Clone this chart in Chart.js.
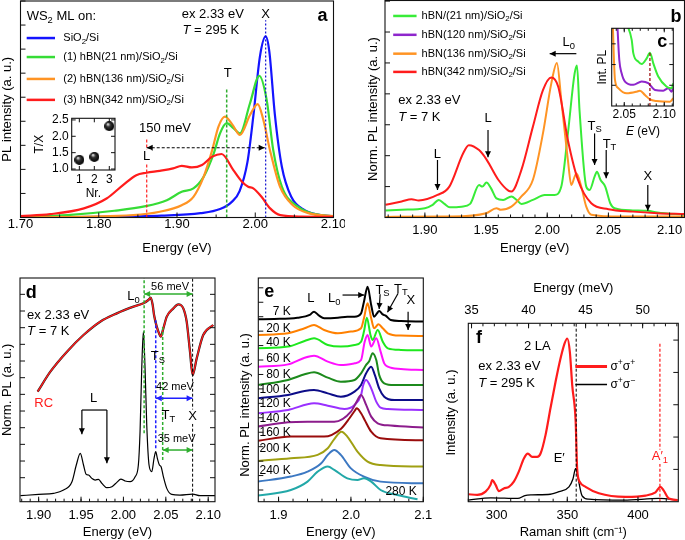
<!DOCTYPE html>
<html><head><meta charset="utf-8">
<script src="https://cdn.jsdelivr.net/npm/chart.js@4.4.1/dist/chart.umd.min.js"></script>
<style>
html,body{margin:0;padding:0;background:#fff;overflow:hidden;}
#wrap{position:relative;width:685px;height:540px;background:#fff;overflow:hidden;}
#wrap canvas{position:absolute;}
</style></head>
<body><div id="wrap"></div>
<script>
// ================= DATA =================
// (a) PL at 295 K : [energy eV, PL intensity a.u.]
const A_SIO2 = [[1.70,0],[1.80,0.03],[1.88,0.08],[1.93,0.18],[1.955,0.35],[1.97,0.65],[1.98,1.1],[1.99,2.3],[1.9975,4.2],[2.006,6.7],[2.0133,7.53],[2.018,6.9],[2.025,4.3],[2.034,2.11],[2.046,0.86],[2.063,0.3],[2.08,0.12],[2.10,0.05]];
const A_HBN21 = [[1.70,0.03],[1.76,0.1],[1.82,0.28],[1.86,0.47],[1.887,0.72],[1.906,1.07],[1.921,1.21],[1.934,1.69],[1.947,2.67],[1.955,3.5],[1.9635,3.92],[1.972,3.72],[1.9805,3.5],[1.9933,4.75],[2.0052,5.89],[2.0146,4.89],[2.023,2.8],[2.034,1.28],[2.055,0.44],[2.075,0.15],[2.10,0.05]];
const A_HBN136 = [[1.70,0],[1.844,0.1],[1.878,0.24],[1.906,0.51],[1.921,0.86],[1.934,1.69],[1.945,2.8],[1.953,3.78],[1.9613,4.19],[1.971,3.85],[1.9805,3.43],[1.9933,4.26],[2.0031,4.71],[2.0103,4.06],[2.0188,2.8],[2.0316,1.28],[2.048,0.51],[2.069,0.17],[2.10,0.06]];
const A_HBN342 = [[1.70,0.06],[1.738,0.14],[1.781,0.38],[1.810,0.79],[1.831,1.35],[1.848,1.76],[1.861,1.86],[1.878,1.94],[1.895,2.04],[1.906,2.15],[1.919,2.08],[1.932,2.18],[1.945,2.53],[1.957,2.64],[1.972,1.97],[1.983,1.49],[1.991,1.28],[1.9975,1.21],[2.008,0.86],[2.019,0.38],[2.032,0.1],[2.06,0.04],[2.10,0.03]];
const A_LEGEND = ['SiO_{2}/Si','(1) hBN(21 nm)/SiO_{2}/Si','(2) hBN(136 nm)/SiO_{2}/Si','(3) hBN(342 nm)/SiO_{2}/Si'];
const A_X_TICKS = [1.70,1.80,1.90,2.00,2.10];
const A_Y_TICKS = [0,1,2,3,4,5,6,7,8,9];
// (a) inset : T/X ratio vs sample number
const INSET_NR = [1,2,3];
const INSET_TX = [1.28,1.37,2.31];
const INSET_Y_TICKS = [1.0,1.5,2.0,2.5];

// (b) PL at 7 K
const B_HBN21 = [[1.8679,0.23],[1.881,0.25],[1.90,0.3],[1.906,0.4],[1.9114,0.57],[1.916,0.44],[1.9204,0.33],[1.93,0.35],[1.937,0.44],[1.9443,1.05],[1.947,1.0],[1.9503,1.13],[1.954,0.95],[1.9585,0.62],[1.964,0.57],[1.9707,0.68],[1.975,0.57],[1.9789,0.44],[1.9883,0.57],[1.9979,0.73],[2.006,0.73],[2.0115,1.0],[2.0169,2.72],[2.0224,4.66],[2.0243,4.92],[2.0264,3.47],[2.0319,1.0],[2.0346,0.89],[2.0387,1.32],[2.0406,1.48],[2.0435,1.22],[2.0474,1.0],[2.0515,0.46],[2.055,0.3],[2.07,0.23],[2.0822,0.215],[2.09,0.16],[2.1122,0.09]];
const B_HBN136 = [[1.8679,0.02],[1.92,0.03],[1.95,0.14],[1.9585,0.3],[1.962,0.25],[1.9707,0.35],[1.9789,0.68],[1.9883,1.22],[1.9965,2.72],[2.0033,4.33],[2.0079,5.0],[2.0115,3.8],[2.0169,1.86],[2.0197,1.05],[2.0224,1.32],[2.0238,1.43],[2.0278,1.0],[2.0319,0.35],[2.036,0.09],[2.06,0.03],[2.1122,0.03]];
const B_HBN342 = [[1.8679,0.41],[1.881,0.52],[1.8891,0.59],[1.895,0.55],[1.9103,0.73],[1.92,1.0],[1.9313,2.08],[1.9359,2.34],[1.9443,2.18],[1.9503,1.88],[1.96,1.22],[1.9685,0.86],[1.9707,0.84],[1.9789,1.54],[1.9883,2.94],[1.9965,4.12],[2.0033,4.53],[2.009,4.23],[2.0169,2.5],[2.0251,1.22],[2.036,0.46],[2.05,0.27],[2.07,0.19],[2.09,0.14],[2.1122,0.11]];
const B_LEGEND = ['hBN/(21 nm)/SiO_{2}/Si','hBN(120 nm)/SiO_{2}/Si','hBN(136 nm)/SiO_{2}/Si','hBN(342 nm)/SiO_{2}/Si'];
const B_X_TICKS = [1.90,1.95,2.00,2.05,2.10];
const B_Y_TICKS = [0,1,2,3,4,5,6,7];

// (c) integrated PL near X
const C_HBN21 = [[2.050,4.2],[2.0593,3.19],[2.0613,2.55],[2.0675,2.14],[2.0718,2.03],[2.078,2.3],[2.0821,2.57],[2.0863,2.06],[2.0925,1.42],[2.103,0.93],[2.1093,0.86],[2.1113,1.1]];
const C_HBN120 = [[2.041,4.2],[2.0438,2.22],[2.0467,1.58],[2.0509,1.18],[2.0613,1.02],[2.0718,1.18],[2.08,1.1],[2.0884,0.77],[2.0988,0.74],[2.105,0.86],[2.1093,0.69],[2.1113,0.94]];
const C_HBN136 = [[2.0355,4.2],[2.0371,2.22],[2.0384,1.26],[2.0425,0.86],[2.053,0.61],[2.0655,0.69],[2.0696,0.74],[2.0759,0.53],[2.0821,0.32],[2.0905,0.24],[2.1071,0.21],[2.1113,0.37]];
const C_X_TICKS = [2.05,2.10];

// (d) PL and reflectance contrast at 7 K
const D_PL = [[1.8785,0.36],[1.90,0.44],[1.9176,0.5],[1.9294,0.7],[1.9393,1.2],[1.9444,2.2],[1.9491,2.9],[1.9529,2.2],[1.9561,1.64],[1.9588,1.6],[1.9628,1.4],[1.9667,1.3],[1.9706,1.34],[1.9746,1.1],[1.9805,0.84],[1.9864,0.9],[1.9922,1.16],[1.9969,1.36],[2.002,1.24],[2.0079,1.2],[2.0138,1.5],[2.0176,2.2],[2.0196,4.2],[2.0216,8.0],[2.0235,10.2],[2.0255,8.0],[2.0275,4.6],[2.0302,2.2],[2.0334,1.8],[2.0361,2.6],[2.0381,3.0],[2.04,2.6],[2.0424,2.2],[2.0444,2.1],[2.0471,1.5],[2.0511,0.8],[2.0569,0.44],[2.0667,0.4],[2.0816,0.46],[2.0902,0.36],[2.1079,0.36]];
const D_RC = [[1.8988,6.6],[1.9138,7.8],[1.9334,9.0],[1.9529,10.0],[1.9726,10.8],[1.9922,11.3],[2.0118,11.7],[2.0235,11.9],[2.0294,12.1],[2.0322,12.24],[2.0345,11.8],[2.0361,11.2],[2.0393,10.5],[2.042,10.1],[2.044,9.9],[2.0471,10.4],[2.0511,11.1],[2.0589,11.6],[2.0647,11.84],[2.0706,11.6],[2.0746,10.8],[2.0785,9.0],[2.0816,7.6],[2.0864,8.6],[2.0941,10.0],[2.1059,10.6]];
const D_X_TICKS = [1.90,1.95,2.00,2.05,2.10];

// (e) temperature series (offset, normalized)
const E_TEMPS = ['7 K','20 K','40 K','60 K','80 K','100 K','120 K','140 K','160 K','200 K','240 K','280 K'];
const E_7K = [[1.871,11.82],[1.894,11.84],[1.926,11.93],[1.943,12.12],[1.949,12.35],[1.956,12.07],[1.963,11.89],[1.982,11.93],[1.995,12.0],[2.005,12.0],[2.014,12.23],[2.018,13.04],[2.023,14.08],[2.028,12.81],[2.032,12.0],[2.036,12.23],[2.039,12.4],[2.044,12.16],[2.048,12.07],[2.055,11.77],[2.069,11.7],[2.1,11.66]];
const E_20K = [[1.871,10.74],[1.913,10.85],[1.936,11.2],[1.949,11.43],[1.963,11.08],[1.982,10.85],[2.0,10.97],[2.014,11.2],[2.018,11.89],[2.023,12.93],[2.028,11.89],[2.032,11.2],[2.038,11.47],[2.044,11.2],[2.051,10.85],[2.069,10.69],[2.1,10.67]];
const E_40K = [[1.871,9.81],[1.913,9.93],[1.936,10.32],[1.949,10.5],[1.968,10.04],[1.986,9.93],[2.005,10.04],[2.014,10.27],[2.018,10.97],[2.022,11.93],[2.027,10.74],[2.03,10.39],[2.037,11.08],[2.044,10.27],[2.051,9.81],[2.069,9.7],[2.1,9.68]];
const E_60K = [[1.871,8.54],[1.913,8.7],[1.936,9.16],[1.949,9.3],[1.968,8.89],[1.986,8.66],[2.005,8.77],[2.014,9.0],[2.019,10.27],[2.023,10.74],[2.028,9.93],[2.035,10.5],[2.041,9.58],[2.046,8.77],[2.051,8.54],[2.069,8.38],[2.1,8.31]];
const E_80K = [[1.871,7.27],[1.913,7.62],[1.936,8.01],[1.949,8.15],[1.968,7.78],[1.986,7.5],[2.005,7.62],[2.014,8.08],[2.021,8.66],[2.025,8.89],[2.03,9.47],[2.035,9.0],[2.039,7.97],[2.046,7.39],[2.06,7.27],[2.1,7.27]];
const E_100K = [[1.871,6.35],[1.913,6.58],[1.936,6.86],[1.949,6.92],[1.968,6.69],[1.986,6.46],[2.005,6.81],[2.014,7.27],[2.021,8.08],[2.028,8.54],[2.033,7.97],[2.039,7.04],[2.046,6.46],[2.06,6.23],[2.1,6.23]];
const E_120K = [[1.871,5.31],[1.913,5.54],[1.949,6.0],[1.968,5.84],[1.991,5.61],[2.005,5.89],[2.014,6.58],[2.017,7.27],[2.021,7.62],[2.028,7.04],[2.035,6.12],[2.041,5.7],[2.051,5.61],[2.1,5.54]];
const E_140K = [[1.871,4.39],[1.913,4.69],[1.94,4.73],[1.977,4.73],[2.0,5.43],[2.008,6.12],[2.014,6.58],[2.021,5.89],[2.028,5.08],[2.037,4.62],[2.055,4.46],[2.1,4.32]];
const E_160K = [[1.871,3.4],[1.917,3.7],[1.963,3.7],[1.986,4.23],[1.998,4.97],[2.005,5.47],[2.008,5.66],[2.014,5.31],[2.019,4.85],[2.028,4.04],[2.041,3.58],[2.1,3.44]];
const E_200K = [[1.871,2.01],[1.917,2.2],[1.954,2.43],[1.968,2.89],[1.977,3.53],[1.987,4.04],[1.995,3.7],[2.009,2.66],[2.023,1.97],[2.041,1.73],[2.1,1.62]];
const E_240K = [[1.871,0.58],[1.917,0.93],[1.94,1.27],[1.959,1.85],[1.968,2.43],[1.977,2.77],[1.986,2.43],[2.0,1.5],[2.018,0.93],[2.041,0.58],[2.1,0.46]];
const E_280K = [[1.871,-0.39],[1.917,0.0],[1.94,0.58],[1.954,1.27],[1.968,1.62],[1.977,1.39],[1.995,0.81],[2.009,0.69],[2.018,0.81],[2.028,0.58],[2.041,0.0],[2.064,-0.35],[2.092,-0.64]];
const E_SERIES = [E_7K,E_20K,E_40K,E_60K,E_80K,E_100K,E_120K,E_140K,E_160K,E_200K,E_240K,E_280K];
const E_X_TICKS = [1.9,2.0,2.1];

// (f) Raman : [Raman shift cm^-1, intensity]
const F_PP = [[280,0.23],[286.3,0.21],[292.2,0.31],[295.7,0.52],[296.9,0.67],[299.3,0.52],[301.6,0.33],[305.1,0.41],[308.7,0.46],[312.2,0.62],[315.7,0.93],[319.3,1.34],[322.1,1.49],[325.2,1.39],[328.7,1.39],[331.1,1.49],[334.6,2.06],[338.1,2.89],[341.7,3.71],[345.2,4.43],[348.1,4.9],[350,5.05],[351.8,4.64],[353.5,3.6],[355.9,2.5],[357,1.0],[359,0.6],[362.9,0.46],[372.3,0.26],[391.2,0.15],[405.3,0.19],[412.4,0.29],[415.9,0.46],[418,0.36],[421.8,0.1],[428,0.05]];
const F_PM = [[280,0.05],[296,0.12],[315,0.1],[320,0.19],[325,0.21],[338,0.23],[344.2,0.31],[351.2,0.46],[354,0.7],[355.9,1.03],[357.5,0.75],[360.5,0.18],[365,0.08],[390,0.05],[415,0.1],[428,0.05]];
const F_X_TICKS = [300,350,400];
const F_MEV_TICKS = [35,40,45,50];
const CM_PER_MEV = 8.0655;

// ================= STYLE =================
const FAM = '"Liberation Sans", Arial, Helvetica, sans-serif';
const F = (s, w) => ({ family: FAM, size: s, weight: w || 'normal', lineHeight: 1.2 });
const pts = arr => arr.map(p => ({ x: p[0], y: p[1] }));
const COL = { blue:'#1414ff', green:'#36dc36', orange:'#ff9424', red:'#ff1c1c', green2:'#38ec38', purple:'#8e26cc', dgreen:'#2fae2f' };
const E_COLORS = ['#000000','#ff8000','#1ee81e','#ff10ff','#1c8a1c','#0c0c88','#9a30ff','#8c1c8c','#9a0c0c','#a0a012','#3c78c2','#22a8a8'];

function parseRich(s) {
  const out = []; let buf = ''; let i = 0;
  while (i < s.length) {
    const c = s[i];
    if ((c === '_' || c === '^' || c === '~') && s[i + 1] === '{') {
      if (buf) { out.push({ t: buf }); buf = ''; }
      const j = s.indexOf('}', i + 2);
      out.push({ t: s.slice(i + 2, j), sub: c === '_', sup: c === '^', it: c === '~' });
      i = j + 1;
    } else { buf += c; i++; }
  }
  if (buf) out.push({ t: buf });
  return out;
}
function drawRich(ctx, s, x, y, o) {
  const size = o.fs || 13;
  const segs = parseRich(s);
  const fnt = g => (g.it ? 'italic ' : '') + (o.b ? 'bold ' : '') + ((g.sub || g.sup) ? (size * 0.72).toFixed(1) : size) + 'px ' + FAM;
  let w = 0;
  segs.forEach(g => { ctx.font = fnt(g); g.w = ctx.measureText(g.t).width; w += g.w; });
  ctx.save();
  ctx.translate(x, y);
  if (o.rot) ctx.rotate(o.rot * Math.PI / 180);
  let x0 = o.al === 'l' ? 0 : (o.al === 'r' ? -w : -w / 2);
  if (o.bg) { ctx.fillStyle = o.bg; ctx.fillRect(x0 - 1, -size * 0.55, w + 2, size * 1.1); }
  ctx.textBaseline = 'middle'; ctx.textAlign = 'left'; ctx.fillStyle = o.c || '#000';
  segs.forEach(g => { ctx.font = fnt(g); const dy = g.sub ? size * 0.3 : (g.sup ? -size * 0.33 : 0); ctx.fillText(g.t, x0, dy); x0 += g.w; });
  ctx.restore();
}
function head(ctx, x1, y1, x2, y2) {
  const L = 6, W = 3, ang = Math.atan2(y2 - y1, x2 - x1);
  const bx = x2 - L * Math.cos(ang), by = y2 - L * Math.sin(ang);
  ctx.beginPath(); ctx.moveTo(x2, y2);
  ctx.lineTo(bx + W * Math.sin(ang), by - W * Math.cos(ang));
  ctx.lineTo(bx - W * Math.sin(ang), by + W * Math.cos(ang));
  ctx.closePath(); ctx.fill();
}

const ANNO = {};
const Anno = {
  id: 'anno',
  beforeDatasetsDraw(chart) {
    const A = ANNO[chart.canvas.id]; if (!A || !A.bg) return;
    const a = chart.chartArea, ctx = chart.ctx;
    ctx.save(); ctx.fillStyle = A.bg; ctx.fillRect(a.left, a.top, a.right - a.left, a.bottom - a.top); ctx.restore();
  },
  afterDatasetsDraw(chart) {
    const A = ANNO[chart.canvas.id]; if (!A) return;
    const ctx = chart.ctx, a = chart.chartArea;
    ctx.save();
    (A.items || []).forEach(it => {
      const xs = chart.scales[it.xs || 'x'], ys = chart.scales.y;
      if (it.k === 'l') {
        const x1 = xs.getPixelForValue(it.x1), y1 = ys.getPixelForValue(it.y1);
        const x2 = xs.getPixelForValue(it.x2), y2 = ys.getPixelForValue(it.y2);
        ctx.strokeStyle = it.c || '#000'; ctx.fillStyle = it.c || '#000';
        ctx.lineWidth = it.w || 1; ctx.setLineDash(it.d || []);
        ctx.beginPath(); ctx.moveTo(x1, y1); ctx.lineTo(x2, y2); ctx.stroke();
        ctx.setLineDash([]);
        if (it.ah & 1) head(ctx, x1, y1, x2, y2);
        if (it.ah & 2) head(ctx, x2, y2, x1, y1);
      } else {
        drawRich(ctx, it.s, xs.getPixelForValue(it.x), ys.getPixelForValue(it.y), it);
      }
    });
    ctx.setLineDash([]);
    ctx.strokeStyle = '#111'; ctx.lineWidth = 1.1;
    ctx.strokeRect(a.left, a.top, a.right - a.left, a.bottom - a.top);
    ctx.lineWidth = 1;
    (A.ticks || []).forEach(t => {
      const sc = chart.scales[t.s];
      let vals = t.v;
      if (!vals) {
        vals = [];
        for (let i = 0; i < 2000; i++) { const v = t.from + i * t.step; if (v > sc.max + 1e-9) break; if (v >= sc.min - 1e-9) vals.push(v); }
      }
      ctx.beginPath();
      vals.forEach(v => {
        const p = sc.getPixelForValue(v), L = t.len;
        if (t.sides.includes('b')) { ctx.moveTo(p, a.bottom); ctx.lineTo(p, a.bottom - L); }
        if (t.sides.includes('t')) { ctx.moveTo(p, a.top); ctx.lineTo(p, a.top + L); }
        if (t.sides.includes('l')) { ctx.moveTo(a.left, p); ctx.lineTo(a.left + L, p); }
        if (t.sides.includes('r')) { ctx.moveTo(a.right, p); ctx.lineTo(a.right - L, p); }
      });
      ctx.stroke();
    });
    ctx.restore();
  }
};

function line(arr, color, w) {
  return { data: pts(arr), borderColor: color, backgroundColor: color, borderWidth: w, pointRadius: 0, pointHoverRadius: 0,
           fill: false, tension: 0.4, cubicInterpolationMode: 'monotone', clip: 0 };
}
function xAxis(box, area, o) {
  const top = o.pos === 'top';
  return {
    type: 'linear', position: top ? 'top' : 'bottom', min: o.min, max: o.max,
    grid: { display: false, drawTicks: false }, border: { display: false },
    afterBuildTicks: s => { s.ticks = o.ticks.map(v => ({ value: v })); },
    ticks: { autoSkip: false, maxRotation: 0, minRotation: 0, color: '#000', font: F(o.fs || 13), padding: o.pad, callback: v => Number(v).toFixed(o.dec) },
    title: { display: !!o.title, text: o.title || '', color: '#000', font: F(o.tfs || 13), padding: { top: o.tpt || 0, bottom: o.tpb || 0 } },
    afterFit: s => { s.height = top ? area.t - box.y : box.y + box.h - area.b; s.paddingLeft = 0; s.paddingRight = 0; }
  };
}
function yAxis(box, area, o) {
  return {
    type: 'linear', position: 'left', min: o.min, max: o.max,
    grid: { display: false, drawTicks: false }, border: { display: false },
    afterBuildTicks: s => { s.ticks = (o.ticks || [o.min]).map(v => ({ value: v })); },
    ticks: { display: !!o.labels, autoSkip: false, color: '#000', font: F(o.fs || 12), padding: o.pad || 3, callback: v => Number(v).toFixed(o.dec || 0) },
    title: { display: !!o.title, text: o.title || '', color: '#000', font: F(o.tfs || 13), padding: { top: o.tpt || 0, bottom: 0 } },
    afterFit: s => { s.width = area.l - box.x; s.paddingTop = 0; s.paddingBottom = 0; }
  };
}
function makePanel(id, box, area, cfg, hasTop) {
  const c = document.createElement('canvas');
  c.id = id; c.width = box.w; c.height = box.h;
  c.style.left = box.x + 'px'; c.style.top = box.y + 'px';
  c.style.width = box.w + 'px'; c.style.height = box.h + 'px';
  document.getElementById('wrap').appendChild(c);
  const o = cfg.options || {};
  o.responsive = false; o.maintainAspectRatio = false; o.animation = false; o.devicePixelRatio = 1; o.events = [];
  o.layout = { padding: { left: 0, bottom: 0, top: hasTop ? 0 : area.t - box.y, right: box.x + box.w - area.r } };
  o.plugins = { legend: { display: false }, tooltip: { enabled: false }, title: { display: false } };
  cfg.options = o; cfg.plugins = [Anno];
  return new Chart(c, cfg);
}
function sphere(r) {
  const c = document.createElement('canvas'); c.width = c.height = 2 * r;
  const g = c.getContext('2d');
  const gr = g.createRadialGradient(r * 0.7, r * 0.6, r * 0.1, r, r, r);
  gr.addColorStop(0, '#e0e0e0'); gr.addColorStop(0.35, '#333'); gr.addColorStop(1, '#000');
  g.fillStyle = gr; g.beginPath(); g.arc(r, r, r, 0, Math.PI * 2); g.fill();
  return c;
}

// ================= PANEL a =================
const boxA = { x: 0, y: 0, w: 345, h: 262 }, arA = { l: 20.5, t: 1, r: 333.5, b: 217.5 };
const aCols = [COL.blue, COL.green, COL.orange, COL.red];
const aLegY = [7.46, 6.67, 5.76, 4.89];
ANNO.pa = {
  ticks: [{ s: 'y', sides: 'l', v: A_Y_TICKS, len: 5 }, { s: 'x', sides: 'b', v: A_X_TICKS, len: 5 }, { s: 'x', sides: 'b', from: 1.75, step: 0.1, len: 3 }],
  items: [
    { k: 't', x: 1.7079, y: 8.36, s: 'WS_{2} ML on:', al: 'l', fs: 13 },
    ...aCols.map((c, i) => ({ k: 'l', x1: 1.7079, y1: aLegY[i], x2: 1.7441, y2: aLegY[i], c: c, w: 2.5 })),
    ...A_LEGEND.map((s, i) => ({ k: 't', x: 1.7547, y: aLegY[i], s: s, al: 'l', fs: 11 })),
    { k: 't', x: 1.906, y: 8.43, s: 'ex 2.33 eV', al: 'l', fs: 13 },
    { k: 't', x: 1.907, y: 7.78, s: '~{T} = 295 K', al: 'l', fs: 13 },
    { k: 't', x: 2.0133, y: 8.45, s: 'X', fs: 13 },
    { k: 't', x: 2.086, y: 8.39, s: 'a', fs: 18, b: true },
    { k: 'l', x1: 1.8613, y1: 0, x2: 1.8613, y2: 3.29, c: '#ff2020', w: 1.2, d: [3, 2] },
    { k: 'l', x1: 1.9635, y1: 0, x2: 1.9635, y2: 5.4, c: COL.dgreen, w: 1.5, d: [3, 2] },
    { k: 'l', x1: 2.0133, y1: 0, x2: 2.0133, y2: 8.2, c: '#1010d0', w: 1.2, d: [2, 2] },
    { k: 'l', x1: 1.8613, y1: 2.9, x2: 2.0121, y2: 2.9, c: '#000', w: 1.2, d: [3, 2], ah: 3 },
    { k: 't', x: 1.9647, y: 5.97, s: 'T', fs: 13 },
    { k: 't', x: 1.8847, y: 3.71, s: '150 meV', fs: 13 },
    { k: 't', x: 1.8613, y: 2.53, s: 'L', fs: 13, bg: '#fff' }
  ]
};
makePanel('pa', boxA, arA, {
  type: 'line',
  data: { datasets: [line(A_HBN342, COL.red, 2.2), line(A_HBN136, COL.orange, 2.2), line(A_HBN21, COL.green, 2.2), line(A_SIO2, COL.blue, 2.2)] },
  options: { scales: {
    x: xAxis(boxA, arA, { min: 1.70, max: 2.10, ticks: A_X_TICKS, dec: 2, pad: -1, title: 'Energy (eV)', tpb: 6 }),
    y: yAxis(boxA, arA, { min: 0, max: 9, ticks: A_Y_TICKS, title: 'PL intensity (a. u.)', tpt: 0 })
  } }
});

// inset of a
const boxIA = { x: 30, y: 110, w: 92, h: 92 }, arIA = { l: 71.7, t: 118.3, r: 115, b: 170 };
ANNO.pia = {
  bg: '#fff',
  ticks: [{ s: 'x', sides: 'bt', v: INSET_NR, len: 4 }, { s: 'y', sides: 'lr', v: INSET_Y_TICKS, len: 4 }]
};
makePanel('pia', boxIA, arIA, {
  type: 'scatter',
  data: { datasets: [{ data: INSET_NR.map((n, i) => ({ x: n, y: INSET_TX[i] })), pointStyle: sphere(5), pointRadius: 5, clip: false }] },
  options: { scales: {
    x: xAxis(boxIA, arIA, { min: 0.49, max: 3.38, ticks: INSET_NR, dec: 0, fs: 12, pad: 2.8, title: 'Nr.', tfs: 12, tpb: 1.5 }),
    y: yAxis(boxIA, arIA, { min: 0.97, max: 2.55, ticks: INSET_Y_TICKS, labels: true, dec: 1, fs: 12, pad: 3, title: 'T/X', tfs: 12, tpt: 2.8 })
  } }
});

// ================= PANEL b =================
const boxB = { x: 345, y: 0, w: 340, h: 262 }, arB = { l: 385, t: 0.5, r: 684.5, b: 217.5 };
const bCols = [COL.green2, COL.purple, COL.orange, COL.red];
const bLegY = [6.52, 5.91, 5.3, 4.71];
ANNO.pb = {
  ticks: [{ s: 'y', sides: 'l', v: B_Y_TICKS, len: 5 }, { s: 'x', sides: 'b', v: B_X_TICKS, len: 5 }, { s: 'x', sides: 'b', from: 1.87, step: 0.01, len: 3 }],
  items: [
    ...bCols.map((c, i) => ({ k: 'l', x1: 1.8741, y1: bLegY[i], x2: 1.8932, y2: bLegY[i], c: c, w: 2.5 })),
    ...B_LEGEND.map((s, i) => ({ k: 't', x: 1.8973, y: bLegY[i], s: s, al: 'l', fs: 11 })),
    { k: 't', x: 1.8782, y: 3.8, s: 'ex 2.33 eV', al: 'l', fs: 13 },
    { k: 't', x: 1.8782, y: 3.24, s: '~{T} = 7 K', al: 'l', fs: 13 },
    { k: 't', x: 2.1053, y: 6.48, s: 'b', fs: 18, b: true },
    { k: 't', x: 1.9103, y: 2.05, s: 'L' },
    { k: 'l', x1: 1.9103, y1: 1.86, x2: 1.9103, y2: 0.89, w: 1.2, ah: 1 },
    { k: 't', x: 1.9516, y: 3.2, s: 'L' },
    { k: 'l', x1: 1.9516, y1: 2.83, x2: 1.9516, y2: 1.95, w: 1.2, ah: 1 },
    { k: 't', x: 2.0175, y: 5.65, s: 'L_{0}' },
    { k: 'l', x1: 2.0238, y1: 5.3, x2: 2.002, y2: 5.3, w: 1.2, ah: 1 },
    { k: 't', x: 2.0387, y: 2.96, s: 'T_{S}' },
    { k: 'l', x1: 2.0387, y1: 2.72, x2: 2.0387, y2: 1.7, w: 1.2, ah: 1 },
    { k: 't', x: 2.0509, y: 2.38, s: 'T_{T}' },
    { k: 'l', x1: 2.0482, y1: 2.18, x2: 2.0482, y2: 1.27, w: 1.2, ah: 1 },
    { k: 't', x: 2.0822, y: 1.32, s: 'X' },
    { k: 'l', x1: 2.0822, y1: 1.05, x2: 2.0822, y2: 0.22, w: 1.2, ah: 1 }
  ]
};
makePanel('pb', boxB, arB, {
  type: 'line',
  data: { datasets: [line(B_HBN342, COL.red, 2), line(B_HBN136, COL.orange, 2), line(B_HBN21, COL.green2, 2)] },
  options: { scales: {
    x: xAxis(boxB, arB, { min: 1.8674, max: 2.1122, ticks: B_X_TICKS, dec: 2, pad: 4.7, title: 'Energy (eV)', tpb: 6 }),
    y: yAxis(boxB, arB, { min: 0, max: 7.02, ticks: B_Y_TICKS, title: 'Norm. PL intensity (a. u.)', tpt: 20.5 })
  } }
});

// ================= PANEL c (inset of b) =================
const boxC = { x: 595, y: 18, w: 90, h: 122 }, arC = { l: 611.7, t: 28.3, r: 673.3, b: 106 };
ANNO.pc = {
  bg: '#fff',
  ticks: [{ s: 'y', sides: 'lr', v: [1, 2, 3], len: 4 }, { s: 'x', sides: 'bt', v: C_X_TICKS, len: 4 }, { s: 'x', sides: 'bt', from: 2.04, step: 0.01, len: 2.5 }],
  items: [
    { k: 'l', x1: 2.0821, y1: 0, x2: 2.0821, y2: 2.57, c: '#990000', w: 1.2, d: [3, 2] },
    { k: 't', x: 2.0975, y: 3.09, s: 'c', fs: 18, b: true },
    { k: 't', x: 2.0734, y: -1.26, s: '~{E} (eV)', fs: 12 }
  ]
};
makePanel('pc', boxC, arC, {
  type: 'line',
  data: { datasets: [line(C_HBN21, COL.green2, 2), line(C_HBN120, COL.purple, 2), line(C_HBN136, COL.orange, 2)] },
  options: { scales: {
    x: xAxis(boxC, arC, { min: 2.0343, max: 2.1113, ticks: C_X_TICKS, dec: 2, fs: 12, pad: 1.8 }),
    y: yAxis(boxC, arC, { min: 0, max: 3.75, ticks: [1, 2, 3], title: 'Int. PL', tfs: 12, tpt: 0 })
  } }
});

// ================= PANEL d =================
const boxD = { x: 0, y: 270, w: 225, h: 270 }, arD = { l: 20, t: 278, r: 215, b: 501.7 };
ANNO.pd = {
  ticks: [{ s: 'y', sides: 'lr', from: 1.44, step: 1, len: 5 }, { s: 'x', sides: 'b', v: D_X_TICKS, len: 5 }, { s: 'x', sides: 'b', from: 1.88, step: 0.01, len: 3 }],
  items: [
    { k: 't', x: 1.8914, y: 12.52, s: 'd', fs: 18, b: true },
    { k: 't', x: 1.8864, y: 11.16, s: 'ex 2.33 eV', al: 'l' },
    { k: 't', x: 1.8864, y: 10.24, s: '~{T} = 7 K', al: 'l' },
    { k: 'l', x1: 2.0244, y1: 4.1, x2: 2.0244, y2: 13.42, c: COL.dgreen, w: 1.5, d: [3, 2] },
    { k: 'l', x1: 2.0381, y1: 3.2, x2: 2.0381, y2: 11, c: '#2020ff', w: 1.5, d: [3, 2] },
    { k: 'l', x1: 2.0463, y1: 2.5, x2: 2.0463, y2: 10.6, c: COL.dgreen, w: 1.5, d: [3, 2] },
    { k: 'l', x1: 2.0816, y1: 0, x2: 2.0816, y2: 13.42, c: '#000', w: 1, d: [3, 2] },
    { k: 'l', x1: 2.0244, y1: 12.46, x2: 2.0816, y2: 12.46, c: COL.dgreen, w: 1.5, ah: 3 },
    { k: 't', x: 2.055, y: 12.88, s: '56 meV', fs: 11 },
    { k: 't', x: 2.0118, y: 12.32, s: 'L_{0}' },
    { k: 't', x: 2.0406, y: 8.7, s: 'T_{S}' },
    { k: 'l', x1: 2.0381, y1: 6.2, x2: 2.0816, y2: 6.2, c: '#2020ff', w: 1.5, ah: 3 },
    { k: 't', x: 2.0608, y: 6.9, s: '42 meV', fs: 11 },
    { k: 't', x: 2.053, y: 5.2, s: 'T_{T}' },
    { k: 't', x: 2.0816, y: 5.1, s: 'X', bg: '#fff' },
    { k: 'l', x1: 2.0463, y1: 3.1, x2: 2.0816, y2: 3.1, c: COL.dgreen, w: 1.5, ah: 3 },
    { k: 't', x: 2.0627, y: 3.76, s: '35 meV', fs: 11 },
    { k: 'l', x1: 1.951, y1: 5.5, x2: 1.9805, y2: 5.5, c: '#000', w: 1.2 },
    { k: 'l', x1: 1.951, y1: 5.5, x2: 1.951, y2: 4.04, c: '#000', w: 1.2, ah: 1 },
    { k: 'l', x1: 1.9805, y1: 5.5, x2: 1.9805, y2: 2.3, c: '#000', w: 1.2, ah: 1 },
    { k: 't', x: 1.9647, y: 6.2, s: 'L' },
    { k: 't', x: 1.9059, y: 5.9, s: 'RC', c: COL.red }
  ]
};
makePanel('pd', boxD, arD, {
  type: 'line',
  data: { datasets: [line(D_RC, COL.red, 1.4), line(D_RC, '#222', 2.3), line(D_PL, '#000', 1.2)] },
  options: { scales: {
    x: xAxis(boxD, arD, { min: 1.878, max: 2.108, ticks: D_X_TICKS, dec: 2, pad: 5.5, title: 'Energy (eV)', tpb: 0 }),
    y: yAxis(boxD, arD, { min: 0, max: 13.42, title: 'Norm. PL (a. u.)', tpt: 0 })
  } }
});

// ================= PANEL e =================
const boxE = { x: 225, y: 270, w: 230, h: 270 }, arE = { l: 258.3, t: 278, r: 423.3, b: 501.7 };
const eLabY = [12.35, 11.2, 10.2, 9.12, 8.01, 6.97, 6.0, 4.97, 3.97, 2.89, 1.31];
ANNO.pe = {
  ticks: [{ s: 'y', sides: 'l', from: 0, step: 1, len: 5 }, { s: 'x', sides: 'b', v: E_X_TICKS, len: 5 }, { s: 'x', sides: 'b', from: 1.88, step: 0.02, len: 3 }],
  items: [
    { k: 't', x: 1.8873, y: 13.73, s: 'e', fs: 18, b: true },
    { k: 't', x: 1.9448, y: 13.27, s: 'L' },
    { k: 't', x: 1.977, y: 13.27, s: 'L_{0}' },
    { k: 'l', x1: 1.9884, y1: 13.5, x2: 2.0183, y2: 13.5, w: 1.2, ah: 1 },
    { k: 't', x: 2.0436, y: 13.85, s: 'T_{S}' },
    { k: 'l', x1: 2.0404, y1: 13.55, x2: 2.039, y2: 12.53, w: 1.2, ah: 1 },
    { k: 't', x: 2.069, y: 13.92, s: 'T_{T}' },
    { k: 'l', x1: 2.0652, y1: 13.62, x2: 2.0505, y2: 12.31, w: 1.2, ah: 1 },
    { k: 't', x: 2.0828, y: 13.16, s: 'X' },
    { k: 'l', x1: 2.079, y1: 12.35, x2: 2.079, y2: 11.08, w: 1.2, ah: 1 },
    ...eLabY.map((y, i) => ({ k: 't', x: 1.917, y: y, s: E_TEMPS[i], al: 'r', fs: 12 })),
    { k: 't', x: 2.091, y: -0.12, s: E_TEMPS[11], al: 'r', fs: 12 },
    { k: 't', x: 1.8536, y: 5.89, s: 'Norm. PL intensity (a. u.)', rot: -90, fs: 13 }
  ]
};
makePanel('pe', boxE, arE, {
  type: 'line',
  data: { datasets: E_SERIES.map((s, i) => line(s, E_COLORS[i], 2)).reverse() },
  options: { scales: {
    x: xAxis(boxE, arE, { min: 1.872, max: 2.1, ticks: E_X_TICKS, dec: 1, pad: 5.5, title: 'Energy (eV)', tpb: 0 }),
    y: yAxis(boxE, arE, { min: -0.81, max: 14.68 })
  } }
});

// ================= PANEL f =================
const boxF = { x: 440, y: 272, w: 245, h: 268 }, arF = { l: 468.3, t: 323.3, r: 678.3, b: 501.7 };
ANNO.pf = {
  ticks: [{ s: 'y', sides: 'r', v: [1, 2, 3, 4, 5], len: 5 }, { s: 'x', sides: 'b', v: F_X_TICKS, len: 5 }, { s: 'x', sides: 'b', from: 280, step: 10, len: 3 },
          { s: 'x2', sides: 't', v: F_MEV_TICKS, len: 5 }, { s: 'x2', sides: 't', from: 35, step: 1, len: 3 }],
  items: [
    { k: 'l', x1: 356.3, y1: 0, x2: 356.3, y2: 5.52, c: '#000', w: 1, d: [3, 2] },
    { k: 'l', x1: 415.5, y1: 0, x2: 415.5, y2: 4.9, c: COL.red, w: 1.2, d: [3, 2] },
    { k: 't', x: 287.5, y: 5.05, s: 'f', fs: 18, b: true },
    { k: 't', x: 328.8, y: 4.79, s: '2 LA' },
    { k: 't', x: 287, y: 4.18, s: 'ex 2.33 eV', al: 'l' },
    { k: 't', x: 287, y: 3.66, s: '~{T} = 295 K', al: 'l' },
    { k: 'l', x1: 355.7, y1: 4.18, x2: 378.1, y2: 4.18, c: COL.red, w: 3 },
    { k: 'l', x1: 355.7, y1: 3.63, x2: 378.1, y2: 3.63, c: '#000', w: 1.5 },
    { k: 't', x: 380.5, y: 4.18, s: 'σ^{+}σ^{+}', al: 'l', fs: 12 },
    { k: 't', x: 380.5, y: 3.63, s: 'σ^{+}σ^{−}', al: 'l', fs: 12 },
    { k: 't', x: 344.3, y: 1.34, s: 'E′' },
    { k: 't', x: 415.5, y: 1.39, s: 'A′_{1}', c: COL.red, bg: '#fff' }
  ]
};
makePanel('pf', boxF, arF, {
  type: 'line',
  data: { datasets: [line(F_PP, COL.red, 2.2), line(F_PM, '#000', 1.3)] },
  options: { scales: {
    x: xAxis(boxF, arF, { min: 280, max: 428.5, ticks: F_X_TICKS, dec: 0, pad: 5.5, title: 'Raman shift (cm⁻¹)', tpb: 0 }),
    x2: xAxis(boxF, arF, { pos: 'top', min: 280 / CM_PER_MEV, max: 428.5 / CM_PER_MEV, ticks: F_MEV_TICKS, dec: 0, pad: 5.5, title: 'Energy (meV)', tpt: 8.5 }),
    y: yAxis(boxF, arF, { min: 0, max: 5.52, title: 'Intensity (a. u.)', tpt: 3.9 })
  } }
}, true);
</script>
</body></html>
